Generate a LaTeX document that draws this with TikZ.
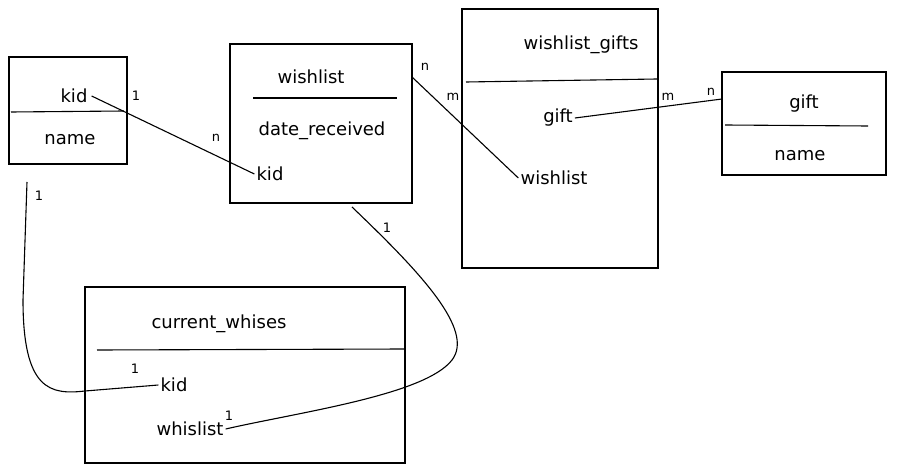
\documentclass[tikz,border=0pt]{standalone}
\usepackage{fontspec}
\setmainfont{DejaVu Sans}
\begin{document}
\begin{tikzpicture}[x=1pt,y=-1pt,
  box/.style={draw,line width=1.1pt,inner sep=0pt},
  fld/.style={inner sep=2pt,font=\fontsize{18}{20}\selectfont},
  card/.style={inner sep=1pt,font=\fontsize{13}{14}\selectfont},
  rel/.style={line width=1.1pt},
  sep/.style={line width=1.1pt}]
\useasboundingbox (0,0) rectangle (897,473);
% kid table
\node[box,minimum width=118pt,minimum height=107pt] (kidtab) at (68,110.5) {};
\draw[sep] (11,112) -- (124,111);
\node[fld] (kidk) at (74,96) {kid};
\node[fld] (kidn) at (70,140) {name};
% wishlist table
\node[box,minimum width=182pt,minimum height=159pt] (wltab) at (321,123.5) {};
\draw[sep] (253,98) -- (397,98);
\node[fld] (wlt) at (311,77) {wishlist};
\node[fld] (wld) at (322,131) {date\_received};
\node[fld] (wlk) at (270,174) {kid};
% wishlist_gifts table
\node[box,minimum width=196pt,minimum height=259pt] (wgtab) at (560,138.5) {};
\draw[sep] (466,82) -- (657,79);
\node[fld] (wgt) at (581,45) {wishlist\_gifts};
\node[fld] (wgg) at (558,118) {gift};
\node[fld] (wgw) at (554,178) {wishlist};
% gift table
\node[box,minimum width=164pt,minimum height=103pt] (gtab) at (804,123.5) {};
\draw[sep] (725,125) -- (868,126);
\node[fld] (gg) at (804,104) {gift};
\node[fld] (gn) at (800,156) {name};
% current_whises table
\node[box,minimum width=320pt,minimum height=176pt] (cwtab) at (245,375) {};
\draw[sep] (97,350) -- (405,349);
\node[fld] (cwt) at (219,324) {current\_whises};
\node[fld] (cwk) at (174,385) {kid};
\node[fld] (cww) at (190,429) {whislist};
% connectors
\coordinate (c1) at (27,182);
\coordinate (c2) at (352,207);
\coordinate (c3) at (412,77);
\coordinate (c4) at (722,99);
\draw[rel] (kidk.east) ++(2,0) coordinate (k1) -- (wlk.west);
\draw[rel] (c3) -- (wgw.west);
\draw[rel] (wgg.east) -- (c4);
\draw[rel] (c1) -- (23,300) .. controls (23,390) and (50,395) .. (85,391) -- (cwk.west);
\draw[rel] (c2) .. controls (420,272) and (475,330) .. (452,360) .. controls (425,395) and (300,412) .. (cww.east);
% cardinalities
\node[card] at (136,96) {1};
\node[card] at (216,138) {n};
\node[card] at (425,67) {n};
\node[card] at (453,97) {m};
\node[card] at (668,97) {m};
\node[card] at (711,92) {n};
\node[card] at (39,196) {1};
\node[card] at (135,369) {1};
\node[card] at (387,228) {1};
\node[card] at (229,416) {1};
\end{tikzpicture}
\end{document}
